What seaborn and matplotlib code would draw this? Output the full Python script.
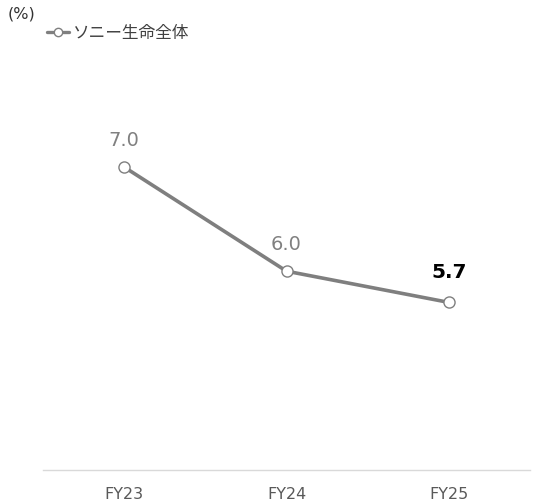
import matplotlib
matplotlib.use("Agg")
import matplotlib.pyplot as plt
import seaborn as sns
import pandas as pd

categories = ["FY23", "FY24", "FY25"]
values = [7.0, 6.0, 5.7]
series_name = "ソニー生命全体"
value_labels = ["7.0", "6.0", "5.7"]

sns.set_theme(style="white")
plt.rcParams['font.family'] = ['DejaVu Sans', 'Noto Sans CJK JP']

df = pd.DataFrame({"cat": categories, "val": values, "x": range(len(categories))})

fig = plt.figure(figsize=(5.35, 5.03), dpi=100)
ax = fig.add_axes([0.0804, 0.0656, 0.9103, 0.8092])

sns.lineplot(data=df, x="x", y="val", ax=ax, color="#7f7f7f", linewidth=2.6,
             marker="o", markersize=8, markerfacecolor="white",
             markeredgecolor="#7f7f7f", markeredgewidth=1.0, label=series_name)

ax.set_xlim(-0.5, 2.5)
ax.set_ylim(4.09, 8.0)
ax.set_xticks(range(len(categories)))
ax.set_xticklabels(categories, fontsize=11.5, color="#595959")
ax.set_yticks([])
ax.set_xlabel("")
ax.set_ylabel("")
ax.tick_params(axis="x", length=0, pad=12)
for s in ["top", "left", "right"]:
    ax.spines[s].set_visible(False)
ax.spines["bottom"].set_color("#d9d9d9")
ax.spines["bottom"].set_linewidth(1.0)

for i, (v, lab) in enumerate(zip(values, value_labels)):
    last = i == len(values) - 1
    ax.annotate(lab, (i, v), xytext=(0, 15 if last else 12.5), textcoords="offset points",
                ha="center", va="bottom",
                fontsize=14 if not last else 14.5,
                fontweight="bold" if last else "normal",
                color="black" if last else "#808080")

fig.text(0.015, 0.972, "(%)", fontsize=11.5, color="#333333", ha="left", va="center")

leg = ax.legend(loc="center left", bbox_to_anchor=(0.088, 0.934),
                bbox_transform=fig.transFigure, frameon=False,
                prop={"family": ["Noto Sans CJK JP", "DejaVu Sans"], "size": 12},
                handlelength=1.3, handletextpad=0.25, borderpad=0, borderaxespad=0)
for t in leg.get_texts():
    t.set_color("#404040")
for h in leg.legend_handles:
    h.set_linewidth(2.4)
    h.set_markersize(6)

fig.savefig("out.png", dpi=100)
